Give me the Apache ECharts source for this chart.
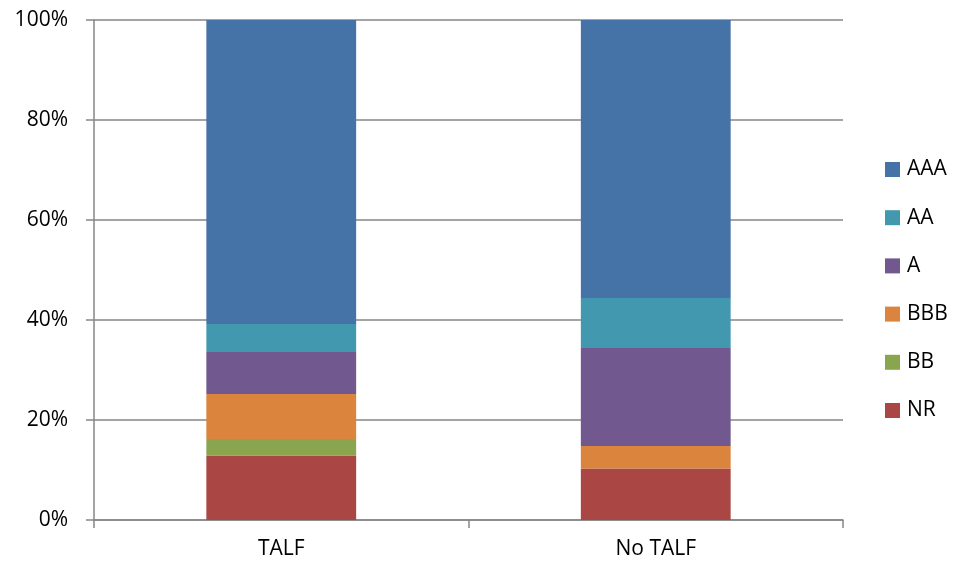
<!DOCTYPE html>
<html><head><meta charset="utf-8">
<script src="https://cdn.jsdelivr.net/npm/echarts@6/dist/echarts.min.js"></script>
<style>html,body{margin:0;padding:0;background:#fff}#c{width:955px;height:569px}</style>
</head><body><div id="c"></div>
<script>
const categories = ['TALF', 'No TALF'];
const seriesNames = ['NR', 'BB', 'BBB', 'A', 'AA', 'AAA'];
const NR  = [12.9, 10.3];
const BB  = [3.3, 0];
const BBB = [9.0, 4.5];
const A   = [8.4, 19.6];
const AA  = [5.6, 10.0];
const AAA = [60.8, 55.6];
const values = [NR, BB, BBB, A, AA, AAA];
const colors = ['#AA4643', '#89A54E', '#DB843D', '#71588F', '#4198AF', '#4572A7'];
const legendOrder = ['AAA', 'AA', 'A', 'BBB', 'BB', 'NR'];

const font = '"Open Sans", "Liberation Sans", sans-serif';
const chart = echarts.init(document.getElementById('c'));
chart.setOption({
  animation: false,
  grid: {left: 94, right: 112, top: 20, bottom: 49, containLabel: false},
  legend: {
    orient: 'vertical', left: 880, top: 154,
    data: legendOrder, itemWidth: 15, itemHeight: 15, itemGap: 27.2,
    icon: 'rect',
    textStyle: {fontFamily: font, fontSize: 21, color: '#000', padding: [0,0,0,2]}
  },
  xAxis: {
    type: 'category', data: categories,
    axisLine: {lineStyle: {color: '#868686', width: 1.5}},
    axisTick: {show: true, length: 8, lineStyle: {color: '#868686', width: 1.5}},
    axisLabel: {fontFamily: font, fontSize: 21, color: '#000', margin: 19}
  },
  yAxis: {
    type: 'value', min: 0, max: 100, interval: 20,
    axisLine: {show: true, lineStyle: {color: '#868686', width: 1.5}},
    axisTick: {show: true, length: 8, lineStyle: {color: '#868686', width: 1.5}},
    splitLine: {lineStyle: {color: '#868686', width: 1.5}},
    axisLabel: {fontFamily: font, fontSize: 21, color: '#000', margin: 26, formatter: '{value}%'}
  },
  series: seriesNames.map((n, i) => ({
    name: n, type: 'bar', stack: 'total', data: values[i], barWidth: '40%',
    itemStyle: {color: colors[i]}
  }))
});
</script></body></html>
